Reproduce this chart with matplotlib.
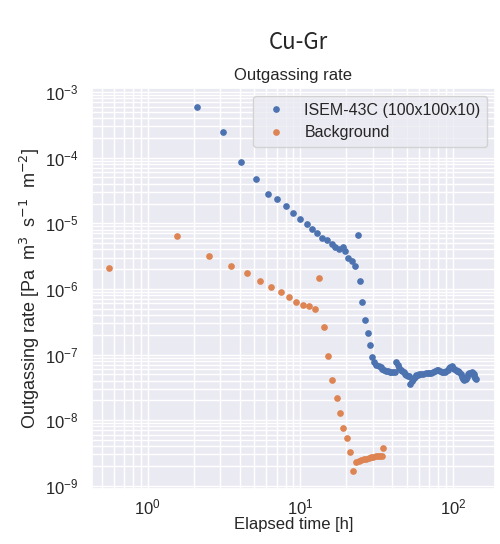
import matplotlib
matplotlib.use("Agg")
import matplotlib.pyplot as plt
import seaborn as sns

# ISEM-43C sample, elapsed time [h] and outgassing rate
isem_t = [2.1, 3.1, 4.1, 5.1, 6.1, 7.0, 8.0, 9.0, 10.0, 11.0, 12.0, 12.9, 13.9, 14.9,
          16.0, 16.9, 17.9, 18.9, 19.7, 20.6, 21.8, 22.7, 23.8, 24.7, 25.5, 26.5,
          27.6, 28.5, 29.5, 30.5, 31.5, 32.5, 33.5, 34.5, 35.5, 36.5, 37.5, 38.5,
          39.5, 40.5, 41.5, 42.5, 43.5, 44.5, 45.5, 46.5, 47.5, 48.5, 49.5, 50.5,
          51.5, 52.5, 53.5, 54.5, 55.5, 56.5, 57.5, 58.5, 60, 62, 64, 66, 68, 70,
          72, 74, 76, 78, 80, 82, 84, 86, 88, 90, 92, 94, 96, 98, 100, 102, 104,
          106, 108, 110, 112, 114, 116, 118, 120, 122, 124, 126, 128, 130, 132,
          134, 136, 138, 140, 142]
isem_rate = [5.9e-4, 2.45e-4, 8.7e-5, 4.7e-5, 2.8e-5, 2.33e-5, 1.84e-5, 1.44e-5,
             1.18e-5, 9.7e-6, 8.1e-6, 7.1e-6, 6.0e-6, 5.5e-6, 4.9e-6, 4.4e-6,
             4.0e-6, 4.4e-6, 3.85e-6, 2.94e-6, 2.7e-6, 2.27e-6, 6.6e-6, 1.31e-6,
             6.4e-7, 3.4e-7, 2.1e-7, 1.41e-7, 9.3e-8, 7.6e-8, 7.0e-8, 6.7e-8,
             6.4e-8, 6.1e-8, 5.9e-8, 5.7e-8, 5.6e-8, 5.5e-8, 5.45e-8, 5.4e-8,
             5.5e-8, 7.8e-8, 7.0e-8, 6.3e-8, 5.9e-8, 5.6e-8, 5.4e-8, 5.1e-8,
             4.9e-8, 4.75e-8, 4.7e-8, 3.6e-8, 3.9e-8, 4.2e-8, 4.4e-8, 4.6e-8,
             4.8e-8, 4.9e-8, 5.0e-8, 5.1e-8, 5.1e-8, 5.15e-8, 5.2e-8, 5.2e-8,
             5.3e-8, 5.5e-8, 5.7e-8, 5.9e-8, 5.8e-8, 5.7e-8, 5.5e-8, 5.4e-8,
             5.35e-8, 5.6e-8, 5.9e-8, 6.2e-8, 6.5e-8, 6.6e-8, 6.3e-8, 6.0e-8,
             5.9e-8, 5.7e-8, 5.6e-8, 5.5e-8, 5.0e-8, 4.6e-8, 4.2e-8, 4.1e-8,
             4.2e-8, 4.2e-8, 4.6e-8, 5.0e-8, 5.2e-8, 5.3e-8, 5.35e-8, 5.2e-8,
             5.0e-8, 4.7e-8, 4.4e-8, 4.2e-8]

# empty chamber background
bg_t = [0.56, 1.55, 2.53, 3.52, 4.5, 5.47, 6.46, 7.45, 8.44, 9.43, 10.4, 11.4,
        12.4, 13.3, 14.3, 15.2, 16.2, 17.3, 18.3, 19.1, 20.2, 21.3, 22.1, 23.1,
        24.1, 25.1, 26.1, 27.1, 28.1, 29.1, 30.1, 31.1, 32.1, 33.1, 34.1, 35.0]
bg_rate = [2.1e-6, 6.4e-6, 3.2e-6, 2.27e-6, 1.74e-6, 1.34e-6, 1.08e-6, 8.9e-7,
           7.5e-7, 6.4e-7, 5.7e-7, 5.5e-7, 4.9e-7, 1.46e-6, 2.6e-7, 9.6e-8,
           4.1e-8, 2.2e-8, 1.27e-8, 7.5e-9, 5.4e-9, 3.3e-9, 1.66e-9, 2.28e-9,
           2.4e-9, 2.5e-9, 2.55e-9, 2.6e-9, 2.65e-9, 2.7e-9, 2.75e-9, 2.8e-9,
           2.82e-9, 2.85e-9, 2.88e-9, 3.7e-9]

sns.set_theme(style="darkgrid")
plt.rcParams["font.family"] = ["Liberation Sans", "DejaVu Sans"]

fig = plt.figure(figsize=(5.0, 5.44), dpi=100)
ax = fig.add_axes([0.184, 0.101, 0.806, 0.737])

ax.plot(isem_t, isem_rate, "o", ms=3.8, color="#4C72B0", label="ISEM-43C (100x100x10)")
ax.plot(bg_t, bg_rate, "o", ms=3.8, color="#DD8452", label="Background")
ax.set_xscale("log")
ax.set_yscale("log")
ax.set_xlim(0.433, 188)
ax.set_ylim(8.9e-10, 1.15e-3)
ax.grid(True, which="both")

ax.set_title("Outgassing rate", fontsize=12)
ax.set_xlabel("Elapsed time [h]", fontsize=12, labelpad=0)
ax.set_ylabel("Outgassing rate [Pa  m$^3$  s$^{-1}$  m$^{-2}$]", fontsize=13, labelpad=2)
ax.tick_params(labelsize=12)
ax.tick_params(axis="x", pad=0)
ax.legend(loc="upper right", fontsize=11.5)

fig.text(0.596, 0.921, "Cu-Gr", ha="center", va="center", fontsize=16,
         family=["Noto Sans CJK JP", "DejaVu Sans"])
fig.savefig("out.png", dpi=100)
